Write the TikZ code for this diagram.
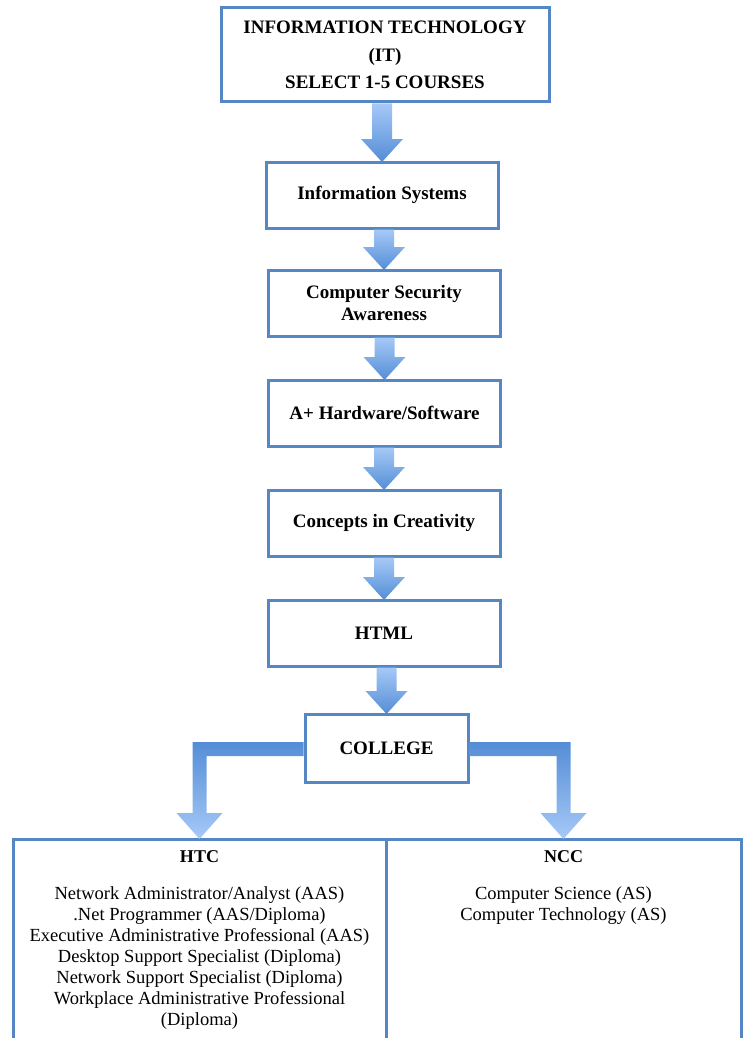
\documentclass[tikz,border=0pt]{standalone}
\usepackage{fontspec}
\setmainfont{Liberation Serif}
\usetikzlibrary{calc}
\definecolor{boxblue}{RGB}{84,135,196}
\definecolor{arrowlight}{RGB}{166,201,247}
\definecolor{arrowdark}{RGB}{84,141,214}
\tikzset{
  course/.style={draw=boxblue, line width=3pt, fill=white, outer sep=0pt,
    minimum width=232pt, minimum height=66pt, align=center,
    font=\fontsize{19}{22}\selectfont\bfseries},
  school/.style={draw=boxblue, line width=3pt, outer sep=0pt, anchor=north west,
    minimum width=373pt, minimum height=260pt},
  schooltitle/.style={font=\fontsize{18}{20}\selectfont\bfseries},
  program/.style={font=\fontsize{18.5}{21}\selectfont, inner sep=0pt},
  fatarrow/.style={top color=arrowlight, bottom color=arrowdark,
    to path={let \p1=(\tikztostart), \p2=(\tikztotarget) in
      (\x2-10pt,\y1) -- (\x2+10pt,\y1) -- (\x2+10pt,\y2+23pt) -- (\x2+21pt,\y2+23pt)
      -- (\x2,\y2) -- (\x2-21pt,\y2+23pt) -- (\x2-10pt,\y2+23pt) -- cycle}},
  elbow/.style={top color=arrowdark, bottom color=arrowlight,
    to path={let \p1=(\tikztostart), \p2=(\tikztotarget) in
      (\x1,\y1+6pt) -- ({\x2-(#1)},\y1+6pt) -- ({\x2-(#1)},\y2+26pt) -- (\x2-23pt,\y2+26pt)
      -- (\x2,\y2) -- (\x2+23pt,\y2+26pt) -- ({\x2+(#1)},\y2+26pt) -- ({\x2+(#1)},\y1-8pt)
      -- (\x1,\y1-8pt) -- cycle}}
}
\begin{document}
\begin{tikzpicture}[x=1pt,y=-1pt]
  \path[use as bounding box, clip] (0,0) rectangle (746,1038);
  \node[course, minimum width=328pt, minimum height=94pt,
    font=\fontsize{19}{27.5}\selectfont\bfseries] (it) at (385,55)
    {INFORMATION TECHNOLOGY\\(IT)\\SELECT 1-5 COURSES};
  \node[course] (infosys) at (382,195) {Information Systems};
  \node[course] (security) at (384,303) {Computer Security\\Awareness};
  \node[course] (hardware) at (384.5,413) {A+ Hardware/Software};
  \node[course] (creativity) at (384,523) {Concepts in Creativity};
  \node[course] (html) at (384,633) {HTML};
  \node[course, minimum width=163pt, minimum height=68pt] (college) at (386.5,748) {COLLEGE};
  \node[school] (htc) at (13,839) {};
  \node[school, minimum width=355pt] (ncc) at (386,839) {};

  % arrows down the course list
  \path[fatarrow] ([yshift=-1.5pt]it.south) to (infosys.north);
  \path[fatarrow] ([yshift=-1.5pt]infosys.south) to (security.north);
  \path[fatarrow] ([yshift=-1.5pt]security.south) to (hardware.north);
  \path[fatarrow] ([yshift=-1.5pt]hardware.south) to (creativity.north);
  \path[fatarrow] ([yshift=-1.5pt]creativity.south) to (html.north);
  \path[fatarrow] ([yshift=-1.5pt]html.south) to (college.north);
  \path[elbow=7pt] ([xshift=-1.5pt]college.west) to (htc.north);
  \path[elbow=-7pt] ([xshift=1.5pt]college.east) to (ncc.north);

  % programs
  \node[schooltitle] (htctitle) at ([yshift=-18pt]htc.north) {HTC};
  \node[schooltitle] (ncctitle) at ([yshift=-18pt]ncc.north) {NCC};
  \foreach \prog [count=\i] in {Network Administrator/Analyst (AAS),
      .Net Programmer (AAS/Diploma), Executive Administrative Professional (AAS),
      Desktop Support Specialist (Diploma), Network Support Specialist (Diploma),
      Workplace Administrative Professional, (Diploma)}
    \node[program] (htc\i) at ([yshift={-56pt-21pt*(\i-1)}]htc.north) {\prog};
  \foreach \prog [count=\i] in {Computer Science (AS), Computer Technology (AS)}
    \node[program] (ncc\i) at ([yshift={-56pt-21pt*(\i-1)}]ncc.north) {\prog};
\end{tikzpicture}
\end{document}
